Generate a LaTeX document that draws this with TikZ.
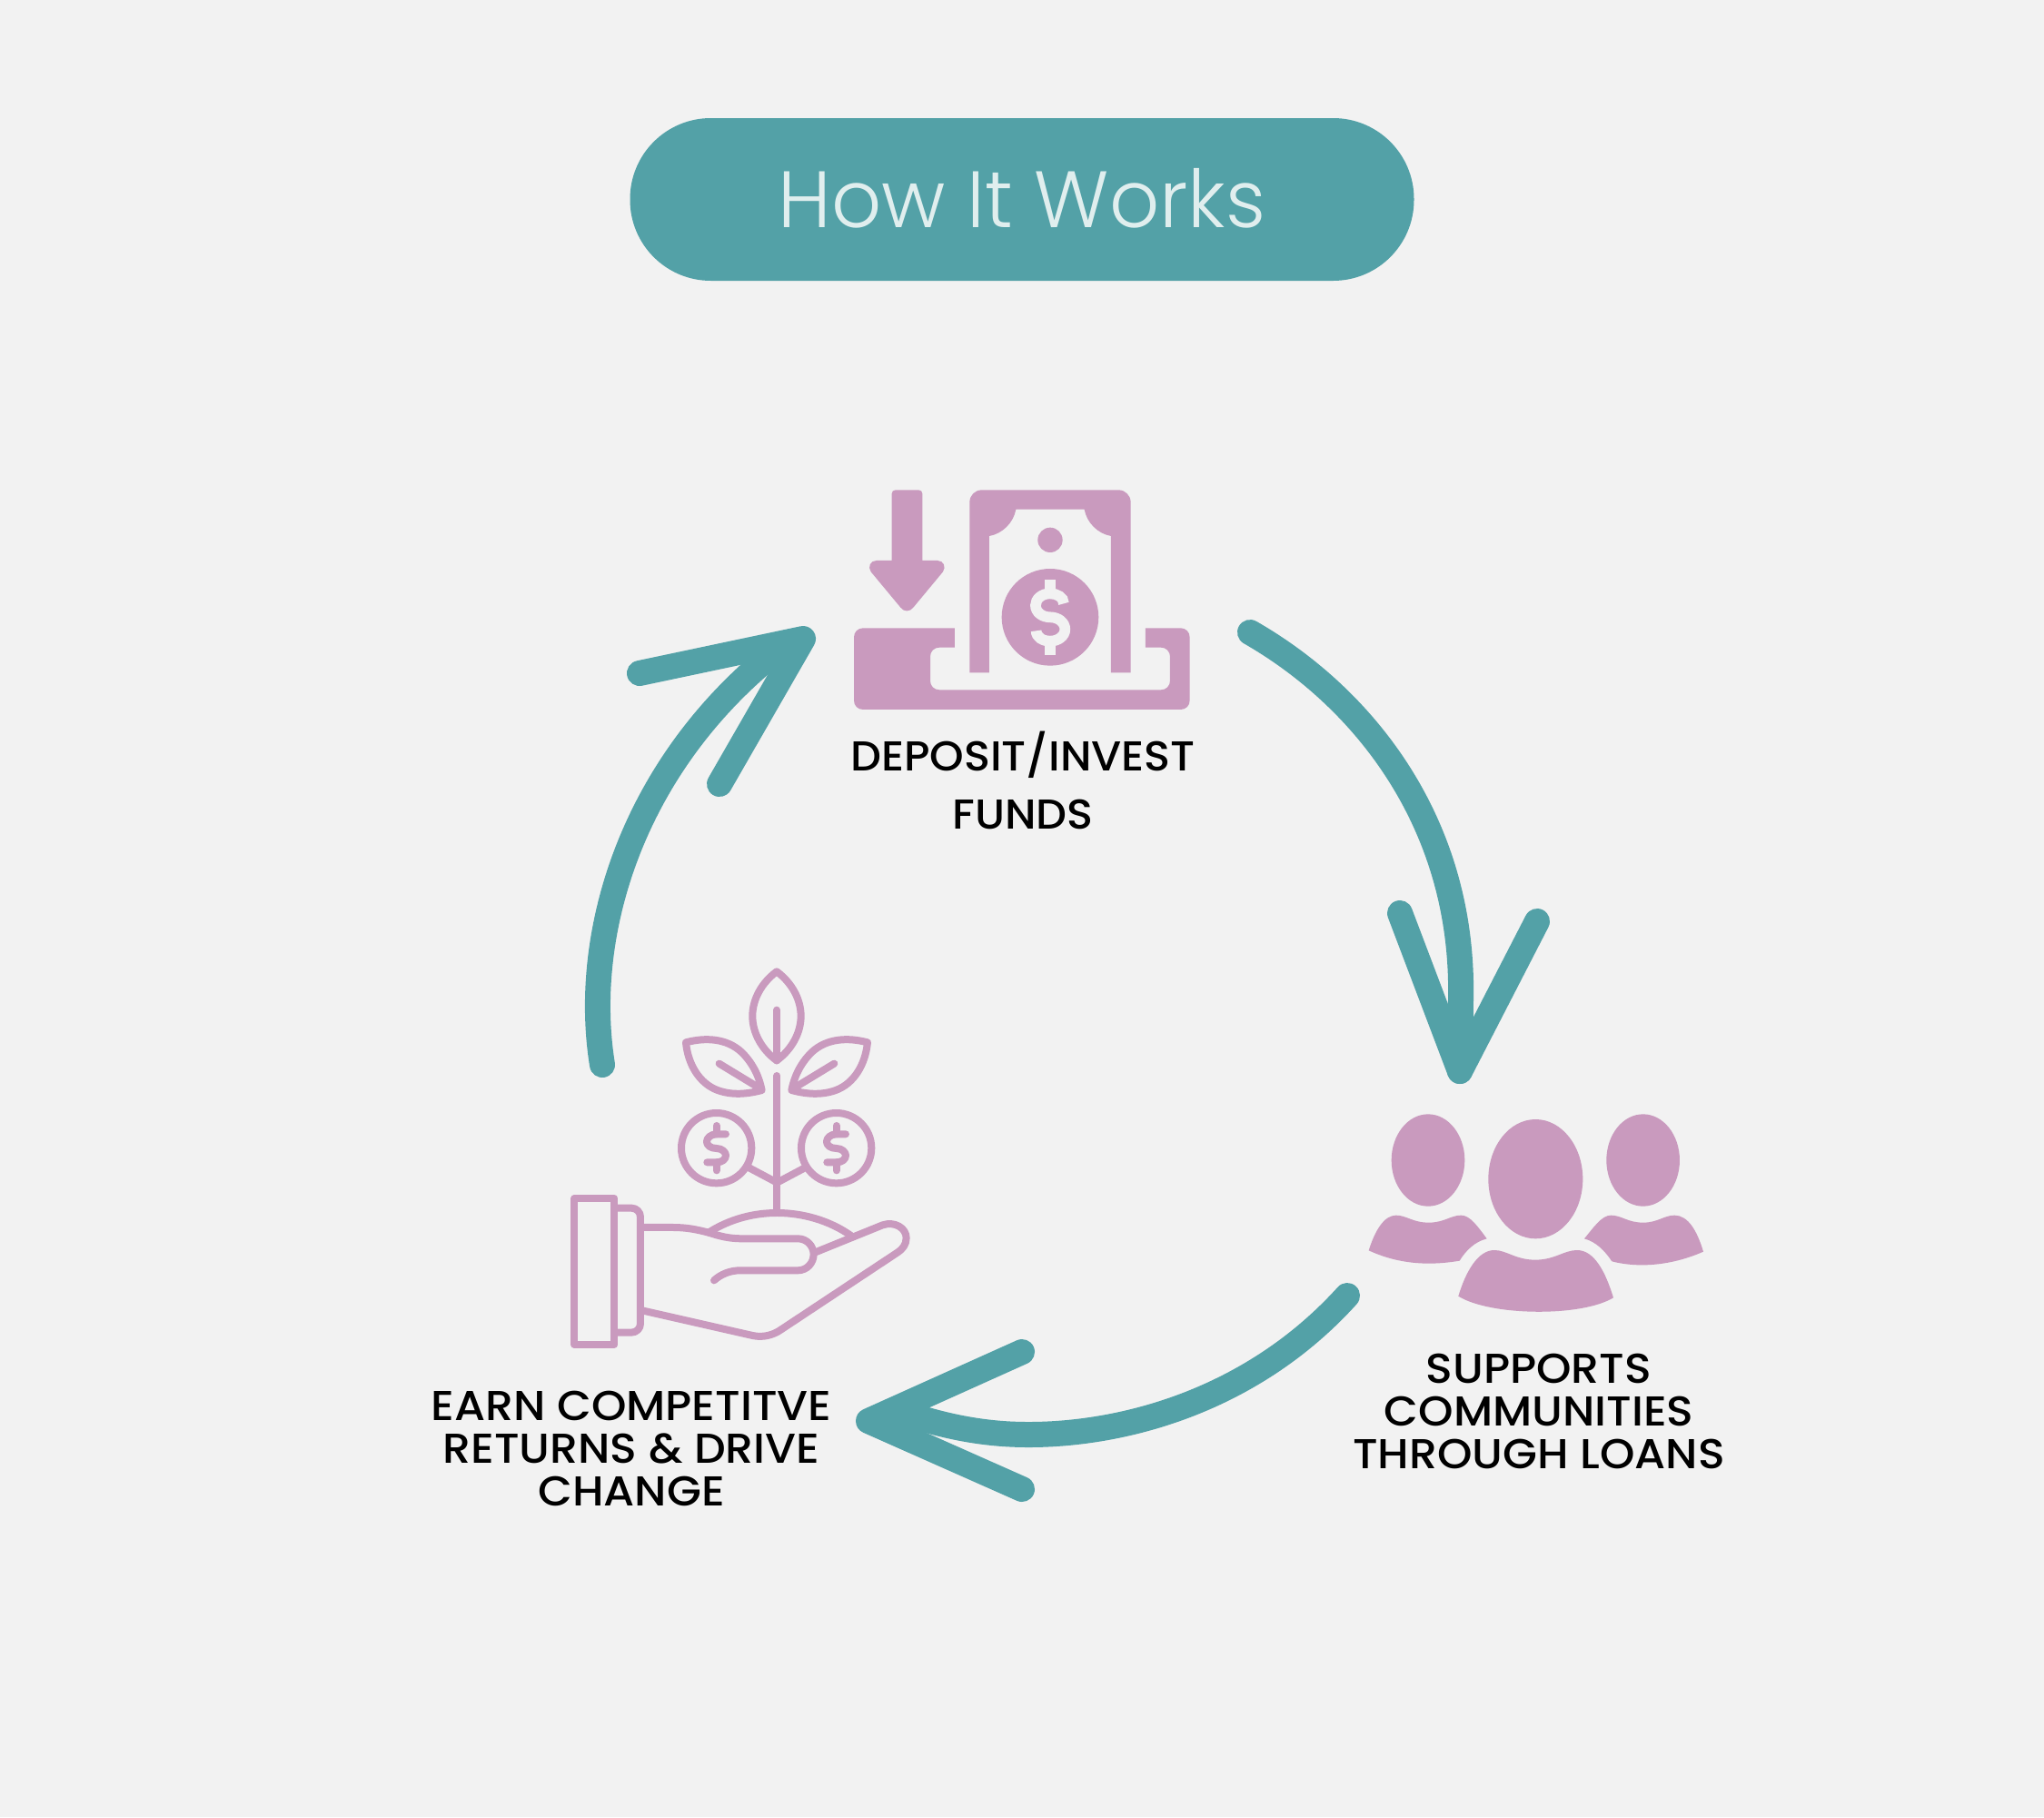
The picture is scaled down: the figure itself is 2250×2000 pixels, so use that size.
\documentclass[tikz,border=0pt]{standalone}
\usepackage{fontspec}
\setmainfont{Poppins}
\newfontfamily\labelfont[FakeStretch=1.065]{Poppins Medium}
\newfontfamily\depositfont[FakeStretch=1.04]{Poppins Medium}
\newfontfamily\titlefont[FakeStretch=0.98]{Poppins Light}
\definecolor{bgc}{HTML}{F2F2F2}
\definecolor{tealc}{HTML}{53A1A7}
\definecolor{pinkc}{HTML}{C99ABE}
\definecolor{titlec}{HTML}{E0EEEE}
\tikzset{
  arrowline/.style={draw=tealc,line width=28pt,line cap=round,line join=round},
  iconfill/.style={fill=pinkc,draw=none},
  iconline/.style={draw=pinkc,line width=8pt,line cap=round,line join=round},
  pill/.style={fill=tealc,text=titlec,rounded corners=89pt,minimum width=863pt,minimum height=179pt,inner sep=0pt,font=\titlefont\fontsize{88}{88}\selectfont},
  steplabel/.style={text=black,align=center,inner sep=0pt,font=\labelfont\fontsize{46}{47}\selectfont},
}
\begin{document}
\begin{tikzpicture}[x=1pt,y=-1pt]
\useasboundingbox (0,0) rectangle (2250,2000);
\fill[bgc] (0,0) rectangle (2250,2000);
\node[pill] (title) at (1125,219.5) {\raisebox{3pt}{How It Works}};

% ---- deposit icon
\begin{scope}[shift={(900,500)},x=0.3333pt,y=-0.3333pt]
\fill[iconfill] (150,574) -- (453,574) -- (453,638) -- (402,638) .. controls (385,638) and (372,651) .. (372,668) -- (372,748) .. controls (372,765) and (385,778) .. (402,778) -- (1134,778) .. controls (1151,778) and (1164,765) .. (1164,748) -- (1164,668) .. controls (1164,651) and (1151,638) .. (1134,638) -- (1083,638) -- (1083,574) -- (1199,574) .. controls (1216,574) and (1229,587) .. (1229,604) -- (1229,813) .. controls (1229,830) and (1216,843) .. (1199,843) -- (150,843) .. controls (133,843) and (120,830) .. (120,813) -- (120,604) .. controls (120,587) and (133,574) .. (150,574) -- cycle;
\fill[iconfill] (257,118) -- (334,118) .. controls (341,118) and (346,123) .. (346,130) -- (346,351) -- (396,351) .. controls (416,351) and (425,372) .. (414,388) -- (316,506) .. controls (305,521) and (285,521) .. (274,506) -- (176,388) .. controls (165,372) and (174,351) .. (194,351) -- (245,351) -- (245,130) .. controls (245,123) and (250,118) .. (257,118) -- cycle;
\fill[iconfill] (502,721) -- (502,158) .. controls (502,136) and (520,118) .. (542,118) -- (994,118) .. controls (1016,118) and (1034,136) .. (1034,158) -- (1034,721) -- (969,721) -- (969,270) .. controls (925,262) and (889,226) .. (881,182) -- (655,182) .. controls (647,226) and (611,262) .. (567,270) -- (567,721) -- cycle;
\fill[iconfill] (768,283) ellipse [x radius=41,y radius=41];
\fill[iconfill] (768,538) ellipse [x radius=160,y radius=160];
\draw[bgc,line width=11.7pt] (813,493) .. controls (813,472) and (790,460) .. (768,460) .. controls (740,460) and (720,478) .. (720,499) .. controls (720,522) and (742,538) .. (768,538) .. controls (795,538) and (817,555) .. (817,578) .. controls (817,600) and (795,617) .. (768,617) .. controls (745,617) and (722,605) .. (722,583);
\draw[bgc,line width=11.7pt] (768,414) -- (768,445) (768,632) -- (768,662);
\end{scope}

% ---- people icon
\begin{scope}[shift={(1480,1200)},x=0.3333pt,y=-0.3333pt]
\fill[iconfill] (276,231) ellipse [x radius=121,y radius=152];
\fill[iconfill] (631,293) ellipse [x radius=156,y radius=197];
\fill[iconfill] (986,231) ellipse [x radius=121,y radius=152];
\fill[iconfill] (80,529) .. controls (100,465) and (130,413) .. (170,413) .. controls (205,413) and (225,437) .. (278,437) .. controls (330,437) and (350,413) .. (385,413) .. controls (415,413) and (440,450) .. (470,490) .. controls (430,500) and (400,530) .. (380,563) .. controls (280,580) and (180,575) .. (80,529) -- cycle;
\fill[iconfill] (376,680) .. controls (400,600) and (440,528) .. (495,528) .. controls (535,528) and (565,560) .. (630,560) .. controls (695,560) and (725,528) .. (768,528) .. controls (825,528) and (862,600) .. (888,685) .. controls (780,750) and (480,745) .. (376,680) -- cycle;
\fill[iconfill] (1185,533) .. controls (1165,465) and (1135,413) .. (1090,413) .. controls (1055,413) and (1035,437) .. (986,437) .. controls (935,437) and (915,413) .. (880,413) .. controls (850,413) and (825,450) .. (792,490) .. controls (830,500) and (860,530) .. (883,565) .. controls (980,590) and (1090,575) .. (1185,533) -- cycle;
\end{scope}

% ---- hand and plant icon
\begin{scope}[shift={(600,1040)},x=0.3333pt,y=-0.3333pt]
\draw[iconline] (765,88) .. controls (715,125) and (685,180) .. (685,235) .. controls (685,290) and (715,345) .. (765,382) .. controls (815,345) and (845,290) .. (845,235) .. controls (845,180) and (815,125) .. (765,88) -- cycle;
\draw[iconline] (765,215) -- (765,382);
\draw[iconline] (465,322) .. controls (530,305) and (600,308) .. (650,355) .. controls (690,395) and (708,440) .. (716,480) .. controls (670,492) and (620,498) .. (570,480) .. controls (510,458) and (472,395) .. (465,322) -- cycle;
\draw[iconline] (575,392) -- (710,474);
\draw[iconline] (1065,322) .. controls (1000,305) and (930,308) .. (880,355) .. controls (840,395) and (822,440) .. (814,480) .. controls (860,492) and (910,498) .. (960,480) .. controls (1020,458) and (1058,395) .. (1065,322) -- cycle;
\draw[iconline] (955,392) -- (820,474);
\draw[iconline] (766,432) -- (766,880);
\draw[iconline,line cap=butt] (672,735) -- (766,785) -- (860,735);
\draw[iconline] (566,671) ellipse [x radius=116,y radius=116];
\draw[iconline] (962,671) ellipse [x radius=116,y radius=116];
\draw[iconline] (566,597) -- (566,625) (566,718) -- (566,745);
\draw[iconline] (597,625) -- (566,625) .. controls (547,625) and (534,638) .. (534,650) .. controls (534,662) and (547,672) .. (566,672) .. controls (585,672) and (597,685) .. (597,695) .. controls (597,708) and (585,718) .. (566,718) -- (535,718);
\draw[iconline] (962,597) -- (962,625) (962,718) -- (962,745);
\draw[iconline] (993,625) -- (962,625) .. controls (943,625) and (930,638) .. (930,650) .. controls (930,662) and (943,672) .. (962,672) .. controls (981,672) and (993,685) .. (993,695) .. controls (993,708) and (981,718) .. (962,718) -- (931,718);
\draw[iconline] (97,837) rectangle (229,1320);
\draw[iconline] (229,869) -- (285,869) .. controls (302,869) and (315,882) .. (315,899) -- (315,1250) .. controls (315,1267) and (302,1280) .. (285,1280) -- (229,1280);
\draw[iconline] (315,933) -- (420,933) .. controls (470,933) and (500,940) .. (540,950) .. controls (580,963) and (610,970) .. (650,970) -- (835,970) .. controls (865,970) and (887,995) .. (887,1022) .. controls (887,1050) and (865,1075) .. (835,1075) -- (645,1075) .. controls (610,1075) and (580,1088) .. (558,1108);
\draw[iconline] (893,1015) -- (1115,925) .. controls (1155,912) and (1193,935) .. (1193,968) .. controls (1193,990) and (1180,1005) .. (1165,1015) -- (780,1270) .. controls (755,1288) and (720,1298) .. (685,1290) -- (320,1207);
\draw[iconline] (540,950) .. controls (610,905) and (690,885) .. (766,885) .. controls (850,885) and (940,910) .. (1010,960);
\end{scope}

% ---- labels
\node[steplabel,font=\depositfont\fontsize{46}{47}\selectfont] (deposit) at (1126,859) {DEPOSIT/INVEST\\[17pt]FUNDS};
\node[steplabel] (supports) at (1694,1553) {SUPPORTS\\COMMUNITIES\\THROUGH LOANS};
\node[steplabel] (earn) at (695,1594) {EARN COMPETITVE\\RETURNS \& DRIVE\\CHANGE};

% ---- cycle arrows
\coordinate (as) at (1376,696);
\coordinate (am) at (1608,1100);
\coordinate (at) at (1607,1179);
\coordinate (al) at (1541,1005);
\coordinate (ar) at (1692,1014);
\draw[arrowline] (as) .. controls (1500,767) and (1612,905) .. (am) -- (at);
\draw[arrowline] (al) -- (at) -- (ar);

\coordinate (bs) at (1483,1426);
\coordinate (bm) at (1132,1579);
\coordinate (be) at (985,1552);
\coordinate (bt) at (956,1564);
\coordinate (bl) at (1125,1488);
\coordinate (br) at (1125,1639);
\draw[arrowline] (bs) .. controls (1380,1540) and (1240,1579) .. (bm) .. controls (1075,1579) and (1030,1567) .. (be);
\draw[arrowline] (bl) -- (bt) -- (br);

\coordinate (cs) at (663,1172);
\coordinate (ce) at (848,722);
\coordinate (ct) at (884,703);
\coordinate (cl) at (704,741);
\coordinate (cr) at (792,863);
\draw[arrowline] (cs) .. controls (640,1030) and (694,848) .. (ce);
\draw[arrowline] (cl) -- (ct) -- (cr);
\end{tikzpicture}
\end{document}
